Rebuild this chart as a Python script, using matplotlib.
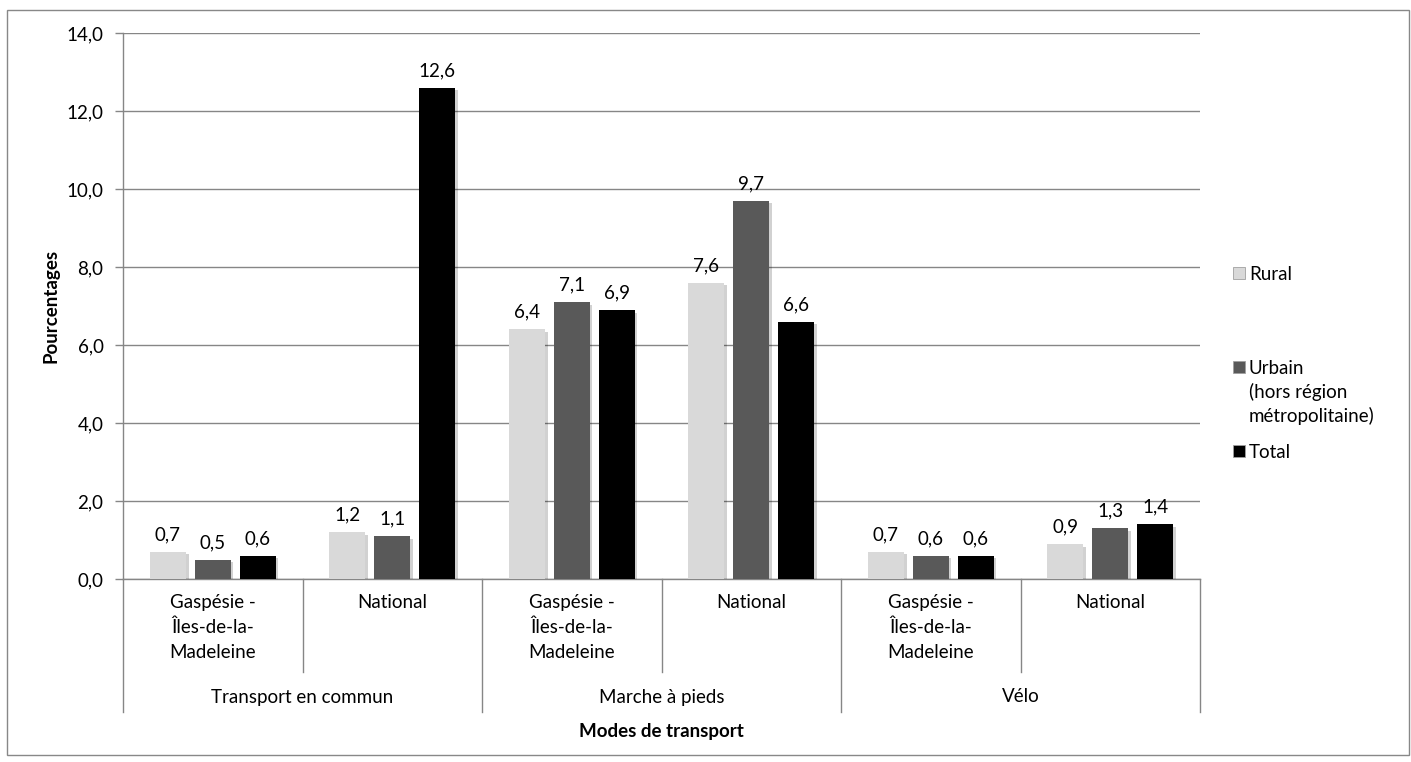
import matplotlib
matplotlib.use("Agg")
import matplotlib.pyplot as plt
import matplotlib.patheffects as pe
from matplotlib.patches import Rectangle
from matplotlib.lines import Line2D
import numpy as np

plt.rcParams['font.family'] = ['Lato', 'DejaVu Sans']

categories = ["Gaspésie -\nÎles-de-la-\nMadeleine", "National",
              "Gaspésie -\nÎles-de-la-\nMadeleine", "National",
              "Gaspésie -\nÎles-de-la-\nMadeleine", "National"]
groups = ["Transport en commun", "Marche à pieds", "Vélo"]
series = ["Rural", "Urbain\n(hors région\nmétropolitaine)", "Total"]
rural = [0.7, 1.2, 6.4, 7.6, 0.7, 0.9]
urbain = [0.5, 1.1, 7.1, 9.7, 0.6, 1.3]
total = [0.6, 12.6, 6.9, 6.6, 0.6, 1.4]
colors = ["#d9d9d9", "#595959", "#000000"]

W, H = 1411, 762
fig = plt.figure(figsize=(W / 100, H / 100), dpi=100)
ax = fig.add_axes([123 / W, 1 - 579 / H, (1200 - 123) / W, (579 - 33) / H])

grid_c = "#868686"
fs = 13.5
ph = 579 - 33

x = np.arange(len(categories))
shadow = [pe.SimplePatchShadow(offset=(2, -2), shadow_rgbFace="#000000", alpha=0.18), pe.Normal()]
for i, (vals, c) in enumerate(zip([rural, urbain, total], colors)):
    bars = ax.bar(x + (i - 1) * 0.25, vals, width=0.2, color=c, zorder=3)
    for b, v in zip(bars, vals):
        b.set_path_effects(shadow)
        ax.text(b.get_x() + b.get_width() / 2, v + 0.22, f"{v:.1f}".replace(".", ","),
                ha="center", va="bottom", fontsize=fs, zorder=4)

ax.set_xlim(-0.5, 5.5)
ax.set_ylim(0, 14)
ax.set_yticks(np.arange(0, 14.1, 2))
ax.set_yticklabels([f"{v:.1f}".replace(".", ",") for v in np.arange(0, 14.1, 2)], fontsize=fs)
ax.yaxis.grid(True, color=grid_c, lw=1, zorder=0)
ax.tick_params(axis="y", length=6, color=grid_c, width=1, pad=8)
ax.set_xticks([])
for s in ["top", "right"]:
    ax.spines[s].set_visible(False)
for s in ["left", "bottom"]:
    ax.spines[s].set_color(grid_c)
    ax.spines[s].set_linewidth(1)

ax.set_ylabel("Pourcentages", fontsize=fs, fontweight="bold", labelpad=5)

# hierarchical x labels
trans = ax.get_xaxis_transform()
inner_bot = -(672 - 579) / ph
outer_bot = -(712 - 579) / ph
for k in range(len(categories) + 1):
    xb = k - 0.5
    yb = outer_bot if k % 2 == 0 else inner_bot
    ax.add_line(Line2D([xb, xb], [0, yb], transform=trans, color=grid_c, lw=1, clip_on=False))
for k, lab in enumerate(categories):
    ax.text(k, -(594 - 579) / ph, lab, transform=trans, ha="center", va="top", fontsize=fs,
            linespacing=1.55)
for g, lab in enumerate(groups):
    ax.text(2 * g + 0.5, -(697 - 579) / ph, lab, transform=trans, ha="center",
            va="center", fontsize=fs)
ax.text(2.5, -(731 - 579) / ph, "Modes de transport", transform=trans, ha="center",
        va="center", fontsize=fs, fontweight="bold")

# legend
leg_y = [273, 367, 451]
for lab, c, yy in zip(series, colors, leg_y):
    fig.add_artist(Rectangle((1233 / W, 1 - (yy + 6) / H), 12 / W, 12 / H,
                             transform=fig.transFigure, facecolor=c, edgecolor="#a0a0a0",
                             lw=0.6))
    fig.text(1249 / W, 1 - (yy - 7) / H, lab, ha="left", va="top", fontsize=fs,
             linespacing=1.4)

# chart border
fig.add_artist(Rectangle((7 / W, 1 - 755 / H), (1409 - 7) / W, (755 - 10) / H,
                         transform=fig.transFigure, fill=False, edgecolor="#888888", lw=1))

fig.savefig("out.png", dpi=100)
